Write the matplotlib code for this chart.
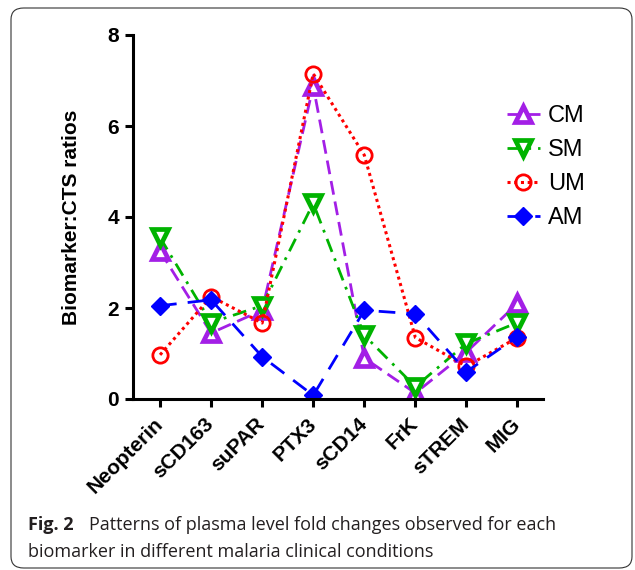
import numpy as np
import matplotlib
matplotlib.use('Agg')
import matplotlib.pyplot as plt
from matplotlib.patches import FancyBboxPatch

# biomarker categories along the x axis
markers_names = ['Neopterin', 'sCD163', 'suPAR', 'PTX3', 'sCD14', 'FrK', 'sTREM', 'MIG']

# fold-change ratios
cm_vals = [3.25, 1.45, 1.95, 6.88, 0.9, 0.13, 1.03, 2.1]
sm_vals = [3.55, 1.68, 2.05, 4.3, 1.4, 0.27, 1.22, 1.68]
um_vals = [0.97, 2.25, 1.67, 7.15, 5.36, 1.35, 0.72, 1.35]
am_vals = [2.05, 2.18, 0.93, 0.08, 1.95, 1.87, 0.6, 1.37]

yticks = [0, 2, 4, 6, 8]

plt.rcParams['font.family'] = ['Liberation Sans', 'DejaVu Sans']

fig = plt.figure(figsize=(6.35, 5.7), dpi=100)
ax = fig.add_axes([133/635, 1 - 399/570, (543-133)/635, (399-35)/570])

x = np.arange(len(markers_names))

ax.plot(x, cm_vals, color='#A31FE6', lw=2, dashes=(5, 2.5), marker='^',
        ms=12, mfc='white', mec='#A31FE6', mew=3.4, label='CM')
ax.plot(x, sm_vals, color='#00B300', lw=2, dashes=(5, 2.5, 1, 2.5), marker='v',
        ms=12, mfc='white', mec='#00B300', mew=3.4, label='SM')
ax.plot(x, um_vals, color='#FF0000', lw=2.2, dashes=(1, 1.2), marker='o',
        ms=11, mfc='none', mec='#FF0000', mew=2, label='UM')
ax.plot(x, am_vals, color='#0000FF', lw=2, dashes=(6, 4), marker='D',
        ms=9, mfc='#0000FF', mec='#0000FF', mew=1, label='AM')

ax.set_xlim(-0.53, 7.5)
ax.set_ylim(0, 8)
ax.set_yticks(yticks)
ax.set_xticks(x)
ax.set_xticklabels(markers_names, rotation=45, ha='right', va='center',
                   rotation_mode='anchor', fontsize=15, fontweight='bold')
for lab in ax.get_yticklabels():
    lab.set_fontsize(15)
    lab.set_fontweight('bold')

for s in ['top', 'right']:
    ax.spines[s].set_visible(False)
for s in ['left', 'bottom']:
    ax.spines[s].set_linewidth(2.2)
ax.tick_params(direction='out', length=6, width=2.2, pad=4)
ax.tick_params(axis='x', pad=10)

ax.set_ylabel('Biomarker:CTS ratios', fontsize=15, fontweight='bold', labelpad=19)

leg = ax.legend(loc='upper left', bbox_to_anchor=(0.86, 0.865), frameon=False,
                fontsize=17, handlelength=1.4, handletextpad=0.35, labelspacing=0.5)

# rounded frame around the whole figure
frame = FancyBboxPatch((11/635, 2/570), 621/635, 560/570,
                       boxstyle='round,pad=0,rounding_size=0.02',
                       transform=fig.transFigure, fill=False,
                       ec='#333333', lw=0.8)
fig.patches.append(frame)

# caption
cap_font = ['Open Sans', 'DejaVu Sans']
fig.text(28/635, 1 - 525/570, 'Fig. 2', fontsize=13, fontweight='bold',
         family=cap_font, color='#231F20', va='center')
fig.text(89/635, 1 - 525/570,
         'Patterns of plasma level fold changes observed for each',
         fontsize=13, family=cap_font, color='#231F20', va='center')
fig.text(28/635, 1 - 552/570,
         'biomarker in different malaria clinical conditions',
         fontsize=13, family=cap_font, color='#231F20', va='center')

fig.savefig('out.png', dpi=100)
